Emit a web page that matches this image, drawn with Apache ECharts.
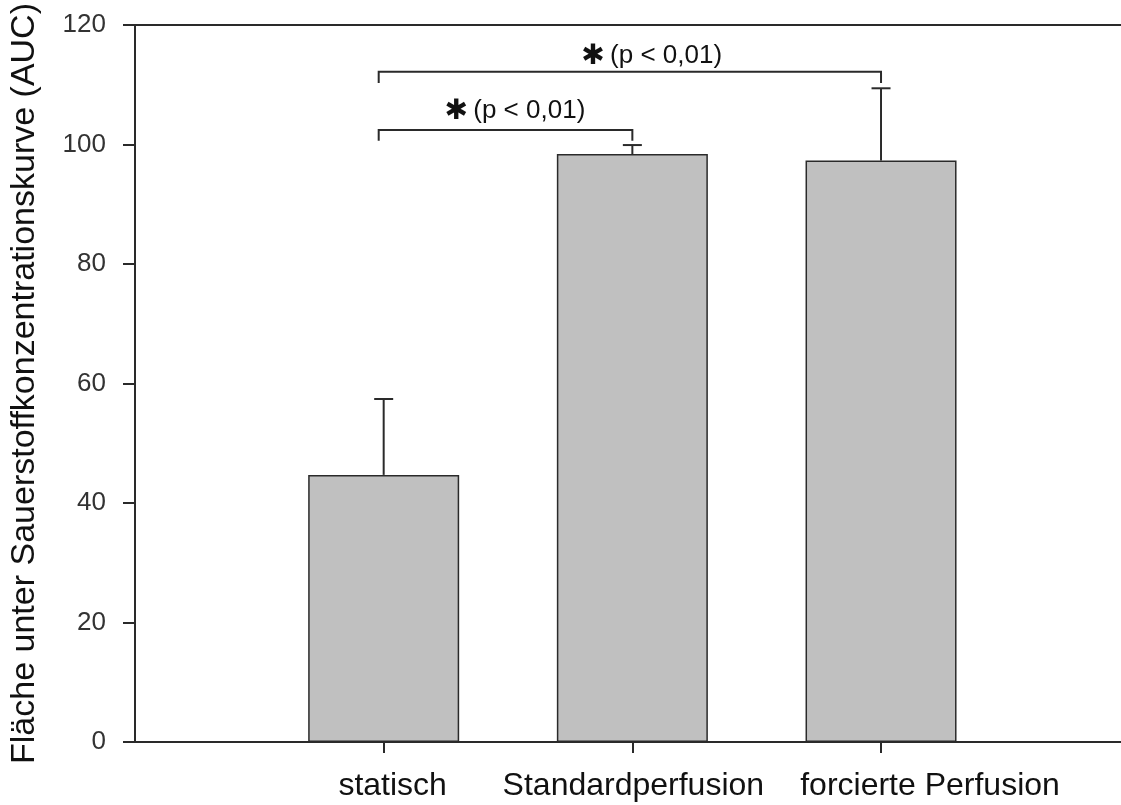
<!DOCTYPE html>
<html><head><meta charset="utf-8">
<script src="https://cdn.jsdelivr.net/npm/echarts@6/dist/echarts.min.js"></script>
<style>html,body{margin:0;padding:0;background:#fff}#c{width:1121px;height:805px}</style>
</head><body><div id="c"></div>
<script>
// ---- data ----
const categories = ['statisch', 'Standardperfusion', 'forcierte Perfusion'];
const positions = [1, 2, 3];
const means = [44.7, 98.4, 97.3];
const errors = [12.7, 1.5, 12.1];
const yTicks = [0, 20, 40, 60, 80, 100, 120];
const yTitle = 'Fläche unter Sauerstoffkonzentrationskurve (AUC)';
const xMax = 3.965;
// significance brackets (data units)
const bracketFrom = [0.98, 0.98];
const bracketTo = [2, 3];
const bracketY = [102.4, 112.15];
const bracketDrop = [100.6, 110.3];
const bracketStarX = [1.30, 1.85];
const bracketStarY = [105.6, 114.8];
const bracketLabels = ['(p < 0,01)', '(p < 0,01)'];

const FONT = '"Liberation Sans", Arial, sans-serif';
const LINE = '#2a2a2a';
const labelStyles = ['c0', 'c1', 'c2'];

const chart = echarts.init(document.getElementById('c'), null, {renderer: 'canvas'});

const barData = positions.map((p, i) => [p, means[i]]);
const errData = positions.map((p, i) => [p, means[i], errors[i]]);
const brData = bracketFrom.map((f, i) => [f, bracketTo[i], bracketY[i], bracketDrop[i], bracketStarX[i], bracketStarY[i], i]);

const labelFont = {fontFamily: FONT, fontSize: 32, color: '#111'};

chart.setOption({
  animation: false,
  backgroundColor: '#fff',
  grid: {left: 132, top: 24, right: 0, height: 718},
  xAxis: [{
    type: 'value', min: 0, max: xMax, interval: 1,
    position: 'bottom',
    axisLine: {show: true, onZero: false, lineStyle: {color: LINE, width: 2}},
    axisTick: {show: true, length: 11, lineStyle: {color: LINE, width: 2}, customValues: positions},
    axisLabel: {
      customValues: positions,
      hideOverlap: false,
      showMinLabel: true, showMaxLabel: true,
      formatter: v => {
        const i = positions.indexOf(v);
        return i < 0 ? '' : '{' + labelStyles[i] + '|' + categories[i] + '}';
      },
      rich: {
        c0: Object.assign({padding: [0, 0, 0, 18]}, labelFont),
        c1: Object.assign({padding: [0, 0, 0, 2]}, labelFont),
        c2: Object.assign({padding: [0, 0, 0, 98]}, labelFont)
      },
      fontFamily: FONT, fontSize: 32, color: '#111', margin: 28
    },
    splitLine: {show: false}
  }, {
    type: 'value', min: 0, max: xMax, interval: 1,
    position: 'top',
    axisLine: {show: true, onZero: false, lineStyle: {color: LINE, width: 2}},
    axisTick: {show: false}, axisLabel: {show: false}, splitLine: {show: false}
  }],
  yAxis: {
    type: 'value', min: 0, max: 120, interval: 20,
    axisLine: {show: true, onZero: false, lineStyle: {color: LINE, width: 2}},
    axisTick: {show: true, length: 12, lineStyle: {color: LINE, width: 2}},
    axisLabel: {
      formatter: v => yTicks.includes(v) ? String(v) : '',
      fontFamily: FONT, fontSize: 26, color: '#333', margin: 29
    },
    splitLine: {show: false},
    name: yTitle, nameLocation: 'middle', nameGap: 93, nameRotate: 90,
    nameTextStyle: {fontFamily: FONT, fontSize: 34, color: '#111'}
  },
  series: [{
    type: 'bar', data: barData, barWidth: 151,
    itemStyle: {color: '#c0c0c0', borderColor: LINE, borderWidth: 1.5},
    z: 2
  }, {
    type: 'custom', data: errData, z: 3,
    renderItem: (params, api) => {
      const x = api.value(0), m = api.value(1), e = api.value(2);
      const p0 = api.coord([x, m]);
      const p1 = api.coord([x, m + e]);
      return {type: 'group', children: [
        {type: 'line', shape: {x1: p0[0], y1: p0[1], x2: p1[0], y2: p1[1]}, style: {stroke: LINE, lineWidth: 2}},
        {type: 'line', shape: {x1: p1[0] - 9.5, y1: p1[1], x2: p1[0] + 9.5, y2: p1[1]}, style: {stroke: LINE, lineWidth: 2}}
      ]};
    }
  }, {
    type: 'custom', data: brData, z: 4,
    renderItem: (params, api) => {
      const f = api.value(0), t = api.value(1), y = api.value(2), d = api.value(3);
      const sx = api.value(4), sy = api.value(5), idx = api.value(6);
      const a = api.coord([f, d]), b = api.coord([f, y]), c = api.coord([t, y]), e = api.coord([t, d]);
      const s = api.coord([sx, sy]);
      return {type: 'group', children: [
        {type: 'polyline', shape: {points: [a, b, c, e]}, style: {stroke: LINE, lineWidth: 2, fill: null}},
        {type: 'text', x: s[0] - 2, y: s[1] + 1, style: {text: '✱', fontFamily: '"DejaVu Sans"', fontSize: 28, fill: '#111', align: 'center', verticalAlign: 'middle'}},
        {type: 'text', x: s[0] + 15, y: s[1], style: {text: bracketLabels[idx], fontFamily: FONT, fontSize: 26, fill: '#111', align: 'left', verticalAlign: 'middle'}}
      ]};
    }
  }]
});
</script>
</body></html>
